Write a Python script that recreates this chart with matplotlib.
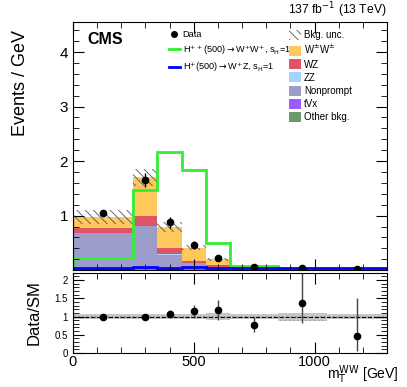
import numpy as np
import matplotlib
matplotlib.use("Agg")
from matplotlib import pyplot as plt
from matplotlib.patches import Patch
from matplotlib.lines import Line2D

plt.rcParams['font.family'] = ['Liberation Sans', 'DejaVu Sans']
plt.rcParams['hatch.linewidth'] = 0.6

edges = [0, 250, 350, 450, 550, 650, 850, 1050, 1300]
centers = [125, 300, 400, 500, 600, 750, 950, 1175]

# background stack (bottom -> top)
other = [0.01, 0.015, 0.01, 0.005, 0.003, 0.002, 0.001, 0.0005]
tvx = [0.01, 0.03, 0.015, 0.008, 0.004, 0.002, 0.001, 0.0005]
nonprompt = [0.66, 0.76, 0.26, 0.11, 0.05, 0.015, 0.006, 0.003]
zz = [0.005, 0.005, 0.003, 0.002, 0.001, 0.001, 0.0005, 0.0003]
wz = [0.09, 0.19, 0.11, 0.05, 0.03, 0.01, 0.005, 0.002]
wpwp = [0.20, 0.70, 0.40, 0.24, 0.11, 0.035, 0.015, 0.008]
bkg_unc = [0.12, 0.15, 0.09, 0.05, 0.03, 0.01, 0.005, 0.003]

data = [1.05, 1.65, 0.88, 0.46, 0.22, 0.055, 0.03, 0.012]
data_err = [0.06, 0.13, 0.1, 0.07, 0.05, 0.015, 0.012, 0.008]

hpp = [0.22, 1.47, 2.17, 1.83, 0.5, 0.07, 0.02, 0.015]
hp = [0.03, 0.05, 0.04, 0.06, 0.035, 0.03, 0.03, 0.03]

ratio = [0.98, 0.98, 1.08, 1.14, 1.18, 0.78, 1.38, 0.46]
ratio_lo = [0.05, 0.05, 0.1, 0.17, 0.27, 0.2, 0.55, 0.42]
ratio_hi = [0.05, 0.05, 0.1, 0.17, 0.28, 0.2, 0.9, 1.05]
ratio_band = [0.07, 0.06, 0.07, 0.07, 0.09, 0.07, 0.11, 0.08]

colors = {
    'Other bkg.': '#6a9a6a',
    'tVx': '#9b5cff',
    'Nonprompt': '#9d9dcc',
    'ZZ': '#a6d3ff',
    'WZ': '#e05566',
    'W$^{\\pm}$W$^{\\pm}$': '#ffc85c',
}
stack = [other, tvx, nonprompt, zz, wz, wpwp]

fig = plt.figure(figsize=(4.07, 3.87), dpi=100)
ax = fig.add_axes([0.179, 0.302, 0.772, 0.641])
rax = fig.add_axes([0.179, 0.088, 0.772, 0.207])

e = np.array(edges)
bottom = np.zeros(len(centers))
for vals, col in zip(stack, colors.values()):
    v = np.array(vals)
    ax.stairs(bottom + v, e, baseline=bottom, fill=True, color=col, lw=0)
    bottom = bottom + v

unc = np.array(bkg_unc)
ax.stairs(bottom + unc, e, baseline=bottom - unc, fill=True, facecolor='none',
          edgecolor='#555555', hatch='\\\\\\\\', lw=0)

ax.stairs(hpp, e, color='#33ee33', lw=2)
ax.stairs(hp, e, color='#0000ff', lw=2)

ax.errorbar(centers, data, yerr=data_err, fmt='o', color='black', ms=4.5, lw=1, capsize=0)

ax.set_xlim(0, 1300)
ax.set_ylim(0, 4.55)
ax.set_xticks([0, 500, 1000])
ax.set_xticklabels([])
ax.set_yticks([1, 2, 3, 4])
ax.set_ylabel('Events / GeV', fontsize=13, loc='top')
ax.yaxis.set_label_coords(-0.14, 0.97)

for a in (ax, rax):
    a.minorticks_on()
    a.tick_params(which='both', direction='in', top=True, right=True, labelsize=11)
    a.tick_params(which='major', length=8)
    a.tick_params(which='minor', length=4)
ax.set_xticks(np.arange(0, 1300, 100), minor=True)
ax.set_yticks(np.arange(0, 4.55, 0.2), minor=True)

ax.text(0.045, 0.96, 'CMS', transform=ax.transAxes, fontsize=11.5, fontweight='bold', va='top')
ax.text(1.0, 1.008, '137 fb$^{-1}$ (13 TeV)', transform=ax.transAxes, fontsize=8.7, ha='right', va='bottom')

h_left = [
    Line2D([], [], marker='o', color='black', ls='none', ms=4),
    Line2D([], [], color='#33ee33', lw=2),
    Line2D([], [], color='#0000ff', lw=2),
]
l_left = ['Data', 'H$^{++}$(500)$\\rightarrow$W$^{+}$W$^{+}$, s$_{\\mathrm{H}}$=1',
          'H$^{+}$(500)$\\rightarrow$W$^{+}$Z, s$_{\\mathrm{H}}$=1']
leg1 = ax.legend(h_left, l_left, loc='upper left', bbox_to_anchor=(0.285, 0.995), frameon=False,
                 fontsize=6.6, handlelength=1.2, handletextpad=0.3, labelspacing=0.45,
                 borderaxespad=0.3)
ax.add_artist(leg1)

names = ['W$^{\\pm}$W$^{\\pm}$', 'WZ', 'ZZ', 'Nonprompt', 'tVx', 'Other bkg.']
h_right = [Patch(facecolor='none', edgecolor='#555555', hatch='\\\\\\\\', lw=0)]
h_right += [Patch(facecolor=colors[n], lw=0) for n in names]
ax.legend(h_right, ['Bkg. unc.'] + names, loc='upper left', bbox_to_anchor=(0.665, 0.995),
          frameon=False, fontsize=7, handlelength=1.3, handleheight=1.2,
          handletextpad=0.3, labelspacing=0.3, borderaxespad=0.3)

# ratio panel
band = np.array(ratio_band)
rax.stairs(1 + band, e, baseline=1 - band, fill=True, facecolor='#c8c8c8',
           edgecolor='#999999', hatch='....', lw=0)
rax.axhline(1, color='black', ls='--', lw=0.8)
rax.errorbar(centers, ratio, yerr=[ratio_lo, ratio_hi], fmt='o', color='black',
             ms=4.5, lw=1, capsize=0, ecolor='#444444')
rax.set_xlim(0, 1300)
rax.set_ylim(0, 2.2)
rax.set_xticks([0, 500, 1000])
rax.set_xticks(np.arange(0, 1300, 100), minor=True)
rax.set_yticks([0, 0.5, 1, 1.5, 2])
rax.set_yticklabels(['0', '0.5', '1', '1.5', '2'], fontsize=7)
rax.set_yticks(np.arange(0, 2.2, 0.1), minor=True)
rax.tick_params(axis='x', labelsize=10.5, pad=1.5)
rax.set_ylabel('Data/SM', fontsize=12)
rax.yaxis.set_label_coords(-0.1, 0.5)
fig.text(0.978, 0.002, 'm$_{\\mathrm{T}}^{\\mathrm{WW}}$ [GeV]', fontsize=10, ha='right', va='bottom')

fig.savefig('out.png', dpi=100)
